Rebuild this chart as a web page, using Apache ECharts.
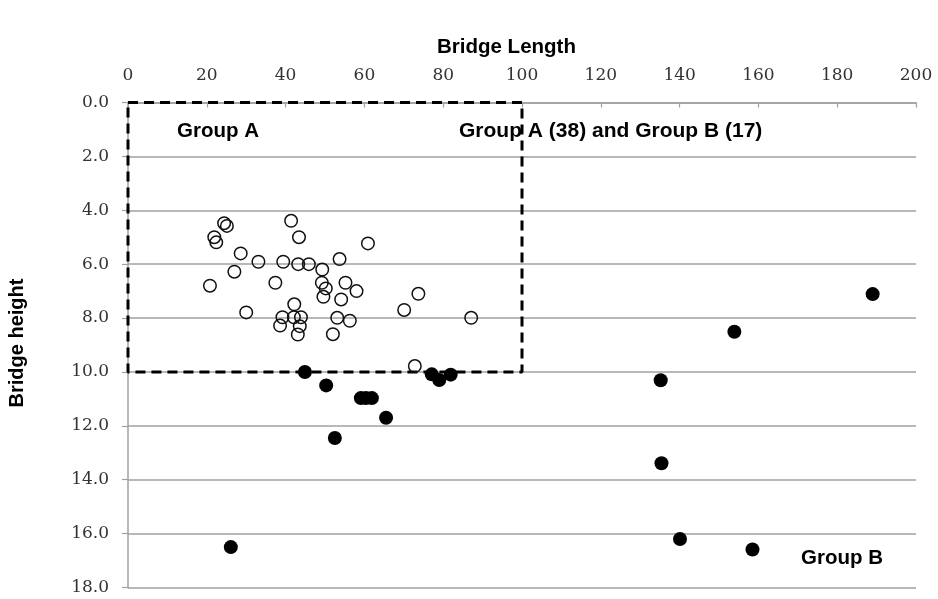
<!DOCTYPE html>
<html>
<head>
<meta charset="utf-8">
<script src="https://cdn.jsdelivr.net/npm/echarts@6/dist/echarts.min.js"></script>
<style>html,body{margin:0;padding:0;background:#fff;}#c{width:938px;height:599px;}</style>
</head>
<body>
<div id="c"></div>
<script>
// Group A (open circles): [bridge length, bridge height]
var groupA = [
  [24.4, 4.48], [25.1, 4.58], [21.9, 5.0], [22.4, 5.19], [41.4, 4.39],
  [43.4, 5.0], [28.6, 5.6], [33.1, 5.91], [39.4, 5.91], [43.2, 6.0],
  [45.9, 6.0], [49.3, 6.2], [53.7, 5.81], [27.0, 6.28], [20.8, 6.8],
  [37.4, 6.69], [49.2, 6.69], [50.2, 6.9], [49.6, 7.21], [30.0, 7.79],
  [42.2, 7.49], [39.2, 7.97], [38.6, 8.28], [42.1, 7.97], [43.9, 7.97],
  [43.6, 8.3], [43.1, 8.61], [52.0, 8.6], [53.1, 7.99], [60.9, 5.23],
  [55.2, 6.69], [58.0, 7.0], [54.1, 7.31], [73.7, 7.1], [70.1, 7.7],
  [87.1, 7.99], [56.3, 8.1], [72.8, 9.78]
];
// Group B (filled circles)
var groupB = [
  [26.1, 16.5], [44.9, 10.0], [50.3, 10.5], [52.5, 12.45],
  [59.1, 10.97], [60.4, 10.97], [61.9, 10.97], [65.5, 11.7],
  [77.1, 10.09], [79.0, 10.3], [81.9, 10.1],
  [189.0, 7.11], [153.9, 8.51], [135.2, 10.31], [135.4, 13.39],
  [140.1, 16.2], [158.5, 16.59]
];
// Dashed Group A boundary corners
var boxCorners = [[0, 0], [100, 0], [100, 10], [0, 10], [0, 0]];
var xTicks = [0, 20, 40, 60, 80, 100, 120, 140, 160, 180, 200];
var yTicks = [0, 2, 4, 6, 8, 10, 12, 14, 16, 18];
var labels = {
  xTitle: 'Bridge Length',
  yTitle: 'Bridge height',
  groupA: 'Group A',
  both: 'Group A (38) and Group B (17)',
  groupB: 'Group B'
};

var chart = echarts.init(document.getElementById('c'));
var serif = '"DejaVu Serif", serif';
var sans = '"Liberation Sans", Arial, sans-serif';
chart.setOption({
  animation: false,
  backgroundColor: '#fff',
  grid: { left: 128, right: 22, top: 102.5, bottom: 11.5 },
  xAxis: {
    type: 'value', position: 'top',
    min: xTicks[0], max: xTicks[xTicks.length - 1], interval: 20,
    axisLine: { show: true, lineStyle: { color: '#a0a0a0', width: 1.5 } },
    axisTick: { show: true, inside: true, length: 5, lineStyle: { color: '#a0a0a0', width: 1.2 } },
    axisLabel: { margin: 18, fontFamily: serif, fontSize: 17, color: '#333' },
    splitLine: { show: false }
  },
  yAxis: {
    type: 'value', inverse: true,
    min: yTicks[0], max: yTicks[yTicks.length - 1], interval: 2,
    axisLine: { show: true, lineStyle: { color: '#a0a0a0', width: 1.5 } },
    axisTick: { show: true, length: 6, lineStyle: { color: '#a0a0a0', width: 1.2 } },
    axisLabel: { margin: 19, fontFamily: serif, fontSize: 17, color: '#333',
      formatter: function (v) { return v.toFixed(1); } },
    splitLine: { show: true, lineStyle: { color: '#a0a0a0', width: 1.5 } }
  },
  series: [
    {
      type: 'line', data: boxCorners, symbol: 'none', silent: true, z: 3,
      lineStyle: { color: '#000', width: 3, type: [10, 6] }
    },
    {
      type: 'scatter', data: groupA, symbol: 'circle', symbolSize: 12.5, z: 4,
      itemStyle: { color: 'rgba(0,0,0,0)', borderColor: '#111', borderWidth: 1.5, opacity: 1 }
    },
    {
      type: 'scatter', data: groupB, symbol: 'circle', symbolSize: 14, z: 5,
      itemStyle: { color: '#000', opacity: 1 }
    }
  ],
  graphic: [
    { type: 'text', left: 437, top: 37, style: { text: labels.xTitle, font: 'bold 20.5px ' + sans, fill: '#000' } },
    { type: 'text', x: 17, y: 343, rotation: Math.PI / 2,
      style: { text: labels.yTitle, font: 'bold 20px ' + sans, fill: '#000', align: 'center', verticalAlign: 'middle' } },
    { type: 'text', left: 177, top: 121, style: { text: labels.groupA, font: 'bold 20.5px ' + sans, fill: '#000' } },
    { type: 'text', left: 459, top: 121, style: { text: labels.both, font: 'bold 21px ' + sans, fill: '#000' } },
    { type: 'text', left: 801, top: 548, style: { text: labels.groupB, font: 'bold 20.5px ' + sans, fill: '#000' } }
  ]
});
</script>
</body>
</html>
